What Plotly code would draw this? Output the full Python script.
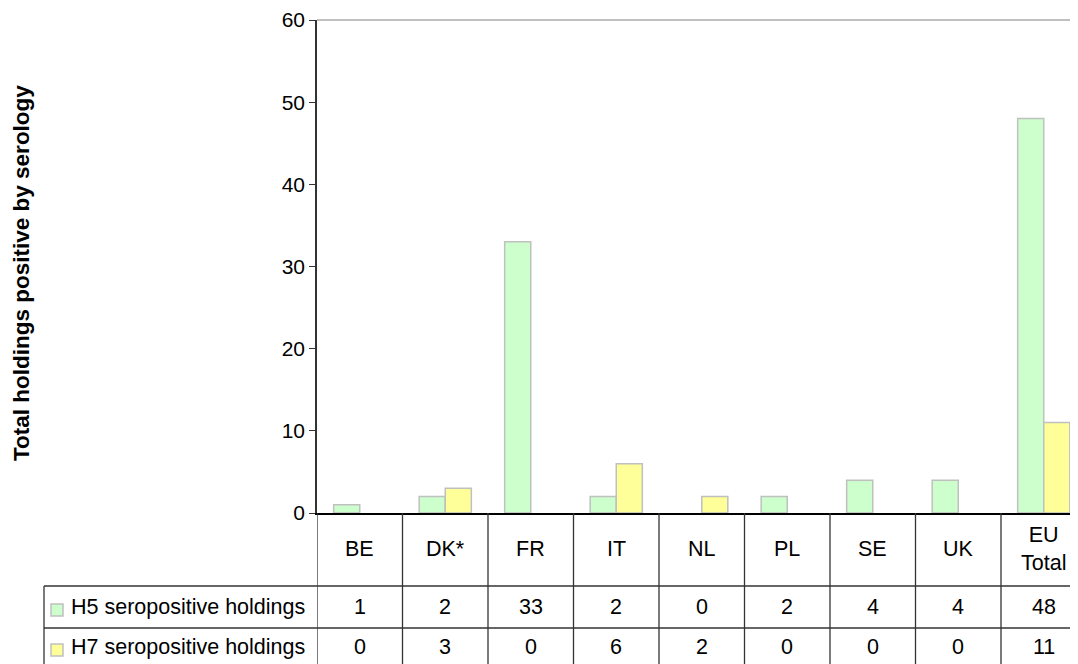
import plotly.graph_objects as go

categories = ["BE", "DK*", "FR", "IT", "NL", "PL", "SE", "UK", "EU Total"]
category_labels = ["BE", "DK*", "FR", "IT", "NL", "PL", "SE", "UK", "EU<br>Total"]
h5_values = [1, 2, 33, 2, 0, 2, 4, 4, 48]
h7_values = [0, 3, 0, 6, 2, 0, 0, 0, 11]
series_names = ["H5 seropositive holdings", "H7 seropositive holdings"]
series_colors = ["#CCFFCC", "#FFFF99"]
y_ticks = [0, 10, 20, 30, 40, 50, 60]
y_title = "Total holdings positive by serology"

OFF = 8                  # default page margin of the html body
WIN_W, WIN_H = 1078, 664
W, H = WIN_W - OFF, WIN_H - OFF
PLOT_L, PLOT_T, PLOT_B = 317, 20, 513   # window pixel positions
L, T = PLOT_L - OFF, PLOT_T - OFF
B = H - (PLOT_B - OFF)
plot_h = PLOT_B - PLOT_T
plot_w = WIN_W - PLOT_L
cat_px = 85.5
n = len(categories)

def py(px):
    return (PLOT_B - px) / plot_h

def pxx(px):
    return (px - PLOT_L) / plot_w

FONT = "Arial, Liberation Sans, sans-serif"
FS = 21.5
xs = list(range(n))

fig = go.Figure()
for name, vals, col in zip(series_names, [h5_values, h7_values], series_colors):
    fig.add_trace(go.Bar(
        x=xs, y=[v if v != 0 else None for v in vals], name=name,
        customdata=vals,
        hovertemplate="%{x}: %{customdata}<extra>" + name + "</extra>",
        marker=dict(color=col, line=dict(color="#C0C0C0", width=1.5)),
        showlegend=False,
    ))

shapes = []
annotations = []
line_col = "#333333"

shapes.append(dict(type="line", xref="paper", yref="paper", x0=0, x1=1, y0=1, y1=1,
                   line=dict(color="#808080", width=1)))

row_top = py(586)
row_mid = py(628)
bottom = py(WIN_H + 5)
for i in range(n + 1):
    shapes.append(dict(type="line", xref="x", yref="paper", x0=i - 0.5, x1=i - 0.5,
                       y0=0, y1=bottom, line=dict(color=line_col, width=1.3)))
for yy in [row_top, row_mid]:
    shapes.append(dict(type="line", xref="paper", yref="paper", x0=pxx(44), x1=1.0,
                       y0=yy, y1=yy, line=dict(color=line_col, width=1.3)))
shapes.append(dict(type="line", xref="paper", yref="paper", x0=pxx(44), x1=pxx(44),
                   y0=row_top, y1=bottom, line=dict(color=line_col, width=1.3)))

for i, lab in enumerate(category_labels):
    annotations.append(dict(x=i, y=py(549), xref="x", yref="paper", text=lab,
                            showarrow=False, xanchor="center", yanchor="middle",
                            font=dict(family=FONT, size=FS, color="#000")))

row_centers = [607, 647]
for r, (name, vals, col) in enumerate(zip(series_names, [h5_values, h7_values], series_colors)):
    yc = row_centers[r]
    for i, v in enumerate(vals):
        annotations.append(dict(x=i, y=py(yc), xref="x", yref="paper", text=str(v),
                                showarrow=False, xanchor="center", yanchor="middle",
                                font=dict(family=FONT, size=FS, color="#000")))
    annotations.append(dict(x=pxx(69), y=py(yc), xref="paper", yref="paper", text=name,
                            showarrow=False, xanchor="left", yanchor="middle",
                            font=dict(family=FONT, size=FS, color="#000")))
    shapes.append(dict(type="rect", xref="paper", yref="paper",
                       x0=pxx(51), x1=pxx(63), y0=py(yc + 9), y1=py(yc - 3),
                       fillcolor=col, line=dict(color="#C0C0C0", width=1.5)))

annotations.append(dict(x=pxx(21), y=py(273), xref="paper", yref="paper", text="<b>" + y_title + "</b>",
                        showarrow=False, textangle=-90, xanchor="center", yanchor="middle",
                        font=dict(family=FONT, size=22.5, color="#000")))

fig.update_layout(
    width=W, height=H,
    margin=dict(l=L, r=0, t=T, b=B, pad=0),
    paper_bgcolor="white", plot_bgcolor="white",
    barmode="group", bargap=0.39, bargroupgap=0,
    shapes=shapes, annotations=annotations,
    xaxis=dict(range=[-0.5, -0.5 + plot_w / cat_px], showticklabels=False, ticks="",
               showgrid=False, zeroline=False, showline=True, linecolor="#000", linewidth=1.5),
    yaxis=dict(range=[0, 60], tickvals=y_ticks, ticks="outside", ticklen=6, tickcolor="#333",
               showgrid=False, zeroline=False, showline=True, linecolor="#333", linewidth=1.5,
               tickfont=dict(family=FONT, size=21, color="#000")),
)

fig.write_html("out.html")
